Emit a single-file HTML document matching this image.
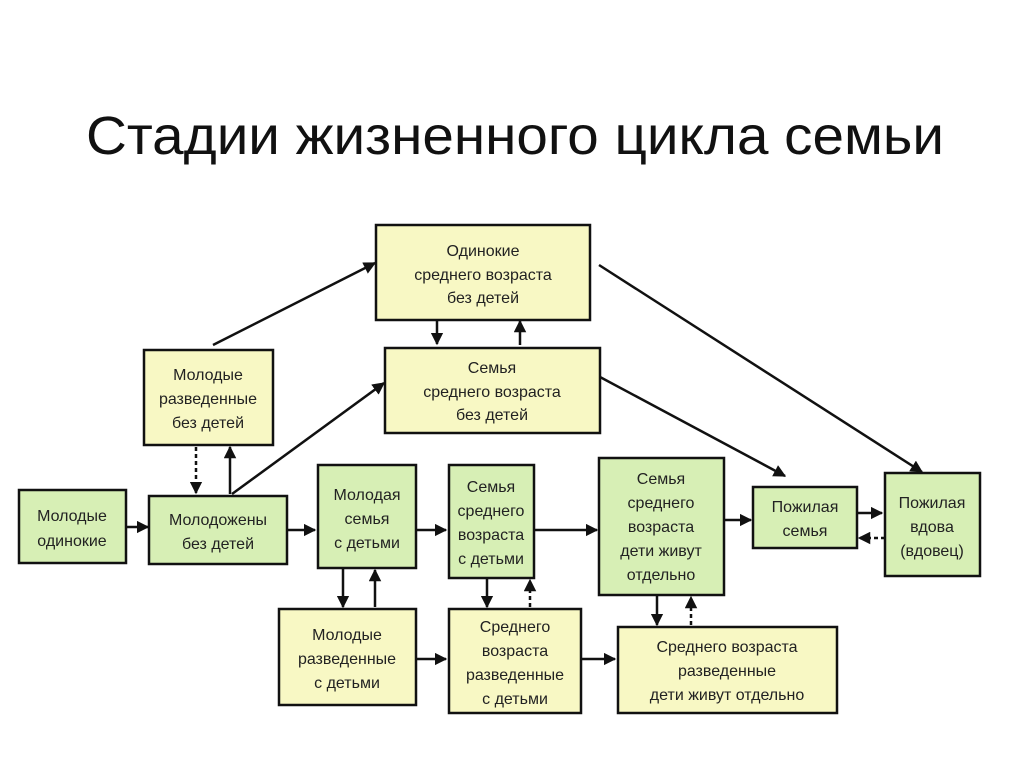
<!DOCTYPE html>
<html><head><meta charset="utf-8"><style>
html,body{margin:0;padding:0;background:#fff;}
svg{display:block;}
text{font-family:"Liberation Sans Narrow","Liberation Sans","DejaVu Sans Condensed",sans-serif;fill:#222;}
</style></head><body>
<svg width="1024" height="767" viewBox="0 0 1024 767" xmlns="http://www.w3.org/2000/svg">
<defs>
<marker id="a" viewBox="0 0 10 10" refX="9" refY="5" markerWidth="5" markerHeight="5" orient="auto"><path d="M0,0L10,5L0,10z" fill="#111"/></marker>
</defs>
<text x="515" y="154" font-size="54" text-anchor="middle" textLength="858" lengthAdjust="spacingAndGlyphs" style="fill:#111">Стадии жизненного цикла семьи</text>
<g stroke="#111" stroke-width="2.5">
<rect x="376" y="225" width="214" height="95" fill="#f8f8c4"/>
<rect x="385" y="348" width="215" height="85" fill="#f8f8c4"/>
<rect x="144" y="350" width="129" height="95" fill="#f8f8c4"/>
<rect x="19" y="490" width="107" height="73" fill="#d7efb5"/>
<rect x="149" y="496" width="138" height="68" fill="#d7efb5"/>
<rect x="318" y="465" width="98" height="103" fill="#d7efb5"/>
<rect x="449" y="465" width="85" height="113" fill="#d7efb5"/>
<rect x="599" y="458" width="125" height="137" fill="#d7efb5"/>
<rect x="753" y="487" width="104" height="61" fill="#d7efb5"/>
<rect x="885" y="473" width="95" height="103" fill="#d7efb5"/>
<rect x="279" y="609" width="137" height="96" fill="#f8f8c4"/>
<rect x="449" y="609" width="132" height="104" fill="#f8f8c4"/>
<rect x="618" y="627" width="219" height="86" fill="#f8f8c4"/>
</g>
<g stroke="#111" stroke-width="2.5" fill="none" marker-end="url(#a)">
<line x1="213" y1="345" x2="375" y2="263"/>
<line x1="232" y1="494" x2="384" y2="383"/>
<line x1="599" y1="265" x2="922" y2="472"/>
<line x1="600" y1="377" x2="785" y2="476"/>
<line x1="437" y1="320" x2="437" y2="344"/>
<line x1="520" y1="345" x2="520" y2="321"/>
<line x1="196" y1="447" x2="196" y2="493" stroke-dasharray="4,3"/>
<line x1="230" y1="494" x2="230" y2="447"/>
<line x1="126" y1="527" x2="148" y2="527"/>
<line x1="287" y1="530" x2="315" y2="530"/>
<line x1="416" y1="530" x2="446" y2="530"/>
<line x1="534" y1="530" x2="597" y2="530"/>
<line x1="724" y1="520" x2="751" y2="520"/>
<line x1="857" y1="513" x2="882" y2="513"/>
<line x1="885" y1="538" x2="859" y2="538" stroke-dasharray="4,3"/>
<line x1="343" y1="568" x2="343" y2="607"/>
<line x1="375" y1="607" x2="375" y2="570"/>
<line x1="487" y1="578" x2="487" y2="607"/>
<line x1="530" y1="607" x2="530" y2="580" stroke-dasharray="4,3"/>
<line x1="657" y1="595" x2="657" y2="625"/>
<line x1="691" y1="625" x2="691" y2="597" stroke-dasharray="4,3"/>
<line x1="416" y1="659" x2="446" y2="659"/>
<line x1="581" y1="659" x2="615" y2="659"/>
</g>
<g font-size="16" text-anchor="middle">
<text x="483" y="256">Одинокие</text><text x="483" y="280">среднего возраста</text><text x="483" y="303">без детей</text>
<text x="492" y="373">Семья</text><text x="492" y="397">среднего возраста</text><text x="492" y="420">без детей</text>
<text x="208" y="380">Молодые</text><text x="208" y="404">разведенные</text><text x="208" y="428">без детей</text>
<text x="72" y="521">Молодые</text><text x="72" y="546">одинокие</text>
<text x="218" y="525">Молодожены</text><text x="218" y="549">без детей</text>
<text x="367" y="500">Молодая</text><text x="367" y="524">семья</text><text x="367" y="548">с детьми</text>
<text x="491" y="492">Семья</text><text x="491" y="516">среднего</text><text x="491" y="540">возраста</text><text x="491" y="564">с детьми</text>
<text x="661" y="484">Семья</text><text x="661" y="508">среднего</text><text x="661" y="532">возраста</text><text x="661" y="556">дети живут</text><text x="661" y="580">отдельно</text>
<text x="805" y="512">Пожилая</text><text x="805" y="536">семья</text>
<text x="932" y="508">Пожилая</text><text x="932" y="532">вдова</text><text x="932" y="556">(вдовец)</text>
<text x="347" y="640">Молодые</text><text x="347" y="664">разведенные</text><text x="347" y="688">с детьми</text>
<text x="515" y="632">Среднего</text><text x="515" y="656">возраста</text><text x="515" y="680">разведенные</text><text x="515" y="704">с детьми</text>
<text x="727" y="652">Среднего возраста</text><text x="727" y="676">разведенные</text><text x="727" y="700">дети живут отдельно</text>
</g>
</svg>
</body></html>
